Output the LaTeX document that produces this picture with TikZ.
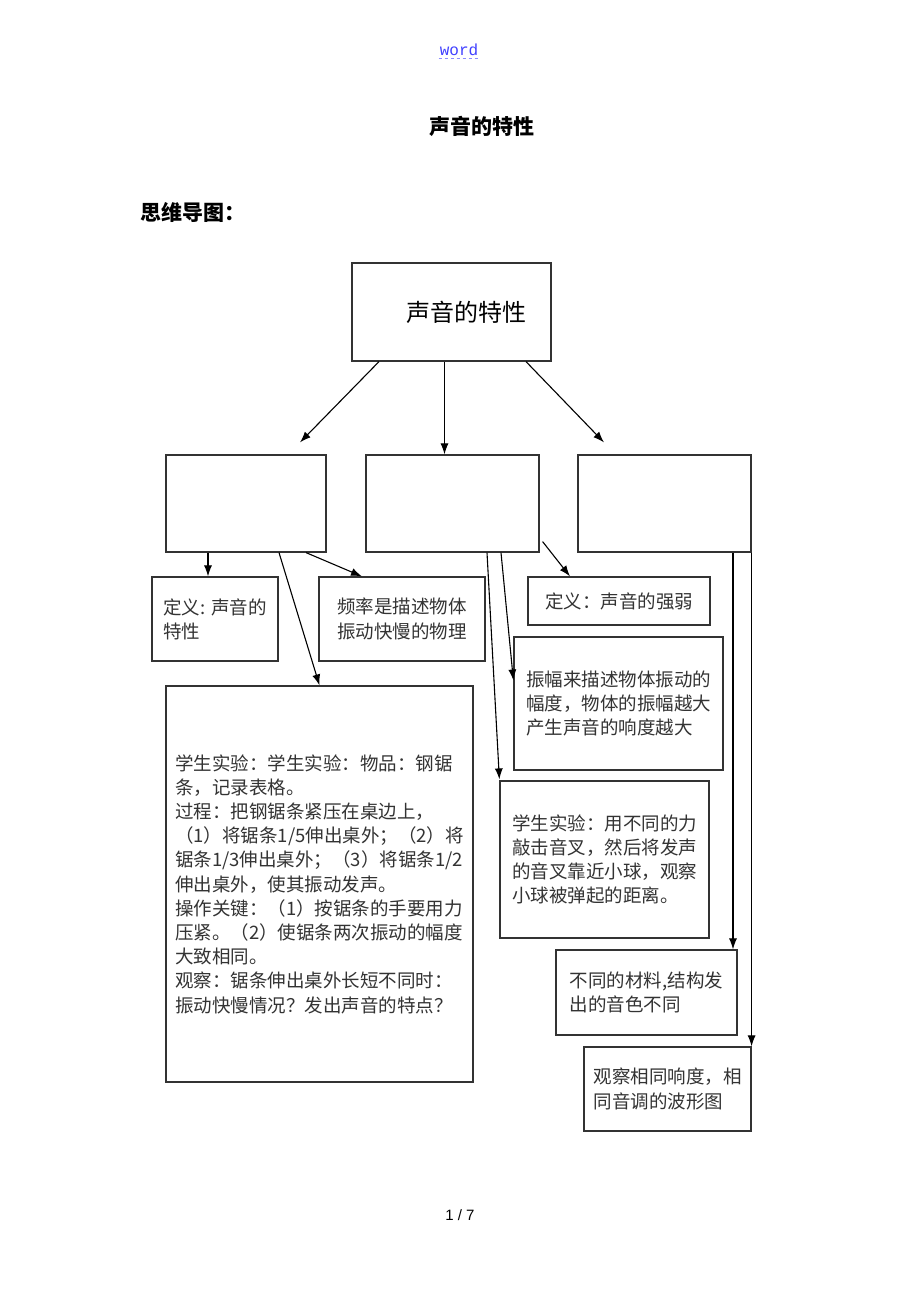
\documentclass[tikz,border=0pt]{standalone}
\usepackage{fontspec}
\setmainfont{Liberation Serif}
\newfontfamily\cjk{Noto Sans CJK SC}
\newfontfamily\pagefont{Liberation Sans}
\newfontfamily\linkfont{Liberation Mono}
\usetikzlibrary{arrows.meta,calc}
\definecolor{boxLine}{rgb}{0.2,0.2,0.2}
\definecolor{boxText}{rgb}{0.2,0.2,0.2}
\definecolor{wordBlue}{rgb}{0.25,0.25,1}

\tikzset{
  box/.style={draw=boxLine, line width=1.2pt, inner sep=0pt, align=left, text=boxText,
              font=\cjk\fontsize{18.5}{24.2}\selectfont},
  link/.style={->, line width=1.1pt, draw=black},
}

\begin{document}
\begin{tikzpicture}[x=1pt,y=-1pt,>={Latex[length=11pt,width=8pt]}]

\fill[white] (0,0) rectangle (920,1302);
\useasboundingbox (0,0) rectangle (920,1302);

% page header and title
\node[text=wordBlue, font=\linkfont\fontsize{16}{16}\selectfont, inner sep=1pt] (word) at (459,50) {word};
\draw[wordBlue!60, dashed, line width=0.7pt] ([yshift=-3pt]word.base west) -- ([yshift=-3pt]word.base east);
\node[font=\cjk\bfseries\fontsize{21}{21}\selectfont] (title) at (482,126) {声音的特性};
\node[font=\cjk\bfseries\fontsize{21}{21}\selectfont, anchor=west, inner sep=0pt] (mind) at (140,212) {思维导图：};

% the root box
\node[box, minimum width=199pt, minimum height=98pt, text=black, font=\cjk\fontsize{24}{28}\selectfont]
  (root) at (451.5,312) {\hspace*{29pt}声音的特性};

% the three empty branch boxes
\foreach \name/\x/\w in {pitch/246/160, loud/452.5/173, tone/664.5/173}
  \node[box, minimum width=\w pt, minimum height=97pt] (\name) at (\x,503.5) {};

% pitch leaves
\node[box, minimum width=126pt, minimum height=84pt] (pdef) at (215,619) {定义: 声音的\\特性};
\node[box, minimum width=166pt, minimum height=84pt] (pfreq) at (402,619) {频率是描述物体\\振动快慢的物理};
\node[box, minimum width=307pt, minimum height=396pt] (pexp) at (319.5,884) {%
学生实验：学生实验：物品：钢锯\\
条，记录表格。\\
过程：把钢锯条紧压在桌边上，\\
（1）将锯条1/5伸出桌外；（2）将\\
锯条1/3伸出桌外；（3）将锯条1/2\\
伸出桌外，使其振动发声。\\
操作关键：（1）按锯条的手要用力\\
压紧。（2）使锯条两次振动的幅度\\
大致相同。\\
观察：锯条伸出桌外长短不同时：\\
振动快慢情况？发出声音的特点？};

% loudness leaves
\node[box, minimum width=182pt, minimum height=48pt] (ldef) at (619,601) {定义：声音的强弱};
\node[box, minimum width=209pt, minimum height=133pt] (lamp) at (618.5,703.5) {振幅来描述物体振动的\\幅度，物体的振幅越大\\产生声音的响度越大};
\node[box, minimum width=209pt, minimum height=157pt] (lexp) at (604.5,859.5) {学生实验：用不同的力\\敲击音叉，然后将发声\\的音叉靠近小球，观察\\小球被弹起的距离。};

% timbre leaves
\node[box, minimum width=181pt, minimum height=85pt] (tmat) at (646.5,992.5) {不同的材料,结构发\\出的音色不同};
\node[box, minimum width=167pt, minimum height=84pt] (twave) at (667.5,1089) {观察相同响度，相\\同音调的波形图};

% draw the arrows from the root
\draw[link] ([xshift=-72.5pt]root.south) -- ([xshift=54pt,yshift=12pt]pitch.north);
\draw[link] ([xshift=-7pt]root.south) -- ([xshift=-7pt]root.south |- loud.north);
\draw[link] ([xshift=74.5pt]root.south) -- ([xshift=-60.5pt,yshift=12pt]tone.north);

% draw the arrows of the pitch branch
\draw[link] ([xshift=-38pt]pitch.south) -- ([xshift=-38pt]pitch.south |- pdef.north);
\draw[link] ([xshift=60pt]pitch.south) -- ([xshift=-40pt]pfreq.north);
\draw[link] ([xshift=33pt]pitch.south) -- (pexp.north);

% draw the arrows of the loudness branch
\draw[link] ([xshift=3pt,yshift=11pt]loud.south east) -- ([xshift=-49pt]ldef.north);
\draw[link] ([xshift=48.5pt]loud.south) -- ([yshift=23pt]lamp.west);
\draw[link] ([xshift=34.5pt]loud.south) -- ([yshift=1pt]lexp.north west);

% draw the arrows of the timbre branch
\draw[link] ([xshift=68.5pt]tone.south) -- ([xshift=68.5pt]tone.south |- tmat.north);
\draw[link] (tone.south east) -- (twave.north east);

% page number
\node[font=\pagefont\fontsize{15}{15}\selectfont] (pagenum) at (460,1215) {1 / 7};

\end{tikzpicture}
\end{document}
